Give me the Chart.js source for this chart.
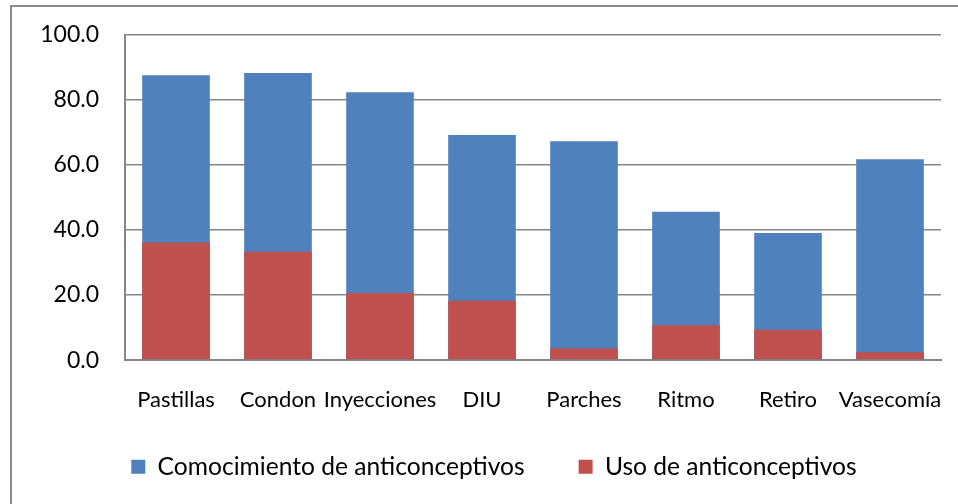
<!DOCTYPE html>
<html>
<head>
<meta charset="utf-8">
<script src="https://cdn.jsdelivr.net/npm/chart.js@4.4.1/dist/chart.umd.min.js"></script>
<style>
  html, body { margin: 0; padding: 0; background: #fff; overflow: hidden; }
  #frame { position: absolute; left: 10px; top: 5px; width: 1000px; height: 600px;
           border-left: 2px solid #8c8c8c; border-top: 2px solid #8c8c8c; }
  #wrap { position: absolute; left: 0; top: 0; width: 958px; height: 504px; }
</style>
</head>
<body>
<div id="frame"></div>
<div id="wrap"><canvas id="chart" width="958" height="504"></canvas></div>
<script>
const categorias = ['Pastillas', 'Condon', 'Inyecciones', 'DIU', 'Parches', 'Ritmo', 'Retiro', 'Vasecomía'];
const conocimiento = [87.5, 88.2, 82.3, 69.1, 67.2, 45.6, 39.0, 61.7];
const uso = [36.1, 33.3, 20.6, 18.2, 3.6, 10.7, 9.3, 2.4];
const yTicks = [0, 20, 40, 60, 80, 100];

const fontFam = 'Lato, "Open Sans", sans-serif';

// labels can overflow the axis box without being clipped
const noClip = s => { s._computeLabelArea = () => undefined; };

new Chart(document.getElementById('chart'), {
    type: 'bar',
    data: {
        labels: categorias,
        datasets: [
            { label: 'Comocimiento de anticonceptivos', data: conocimiento, backgroundColor: '#4F81BD', order: 1 },
            { label: 'Uso de anticonceptivos', data: uso, backgroundColor: '#C0504D', order: 0 }
        ]
    },
    options: {
        responsive: false,
        animation: false,
        layout: { padding: { left: 47, right: 17, top: 34.5, bottom: 15 } },
        datasets: { bar: { categoryPercentage: 1, barPercentage: 0.663 } },
        plugins: {
            tooltip: { enabled: false },
            legend: {
                position: 'bottom',
                labels: {
                    font: { family: fontFam, size: 24.6 },
                    color: '#000',
                    boxWidth: 14, boxHeight: 14,
                    padding: 54,
                    sort: (a, b) => a.datasetIndex - b.datasetIndex
                }
            }
        },
        scales: {
            x: {
                stacked: true,
                grid: { display: false, drawTicks: false },
                border: { color: '#868686', width: 2 },
                ticks: { color: '#000', font: { family: fontFam, size: 22 }, padding: 27, maxRotation: 0, autoSkip: false },
                afterFit: s => { s.height = 40.3; s.paddingLeft = 0; s.paddingRight = 0; },
                afterUpdate: noClip
            },
            y: {
                stacked: false,
                min: 0, max: 100,
                afterBuildTicks: s => { s.ticks = yTicks.map(v => ({ value: v })); },
                grid: { color: '#868686', lineWidth: 1.5, drawTicks: false },
                border: { color: '#868686', width: 2 },
                ticks: { color: '#000', font: { family: fontFam, size: 23 }, padding: 26, callback: v => v.toFixed(1) },
                afterFit: s => { s.width = 78; s.paddingTop = 0; s.paddingBottom = 0; },
                afterUpdate: noClip
            }
        }
    }
});
</script>
</body>
</html>
